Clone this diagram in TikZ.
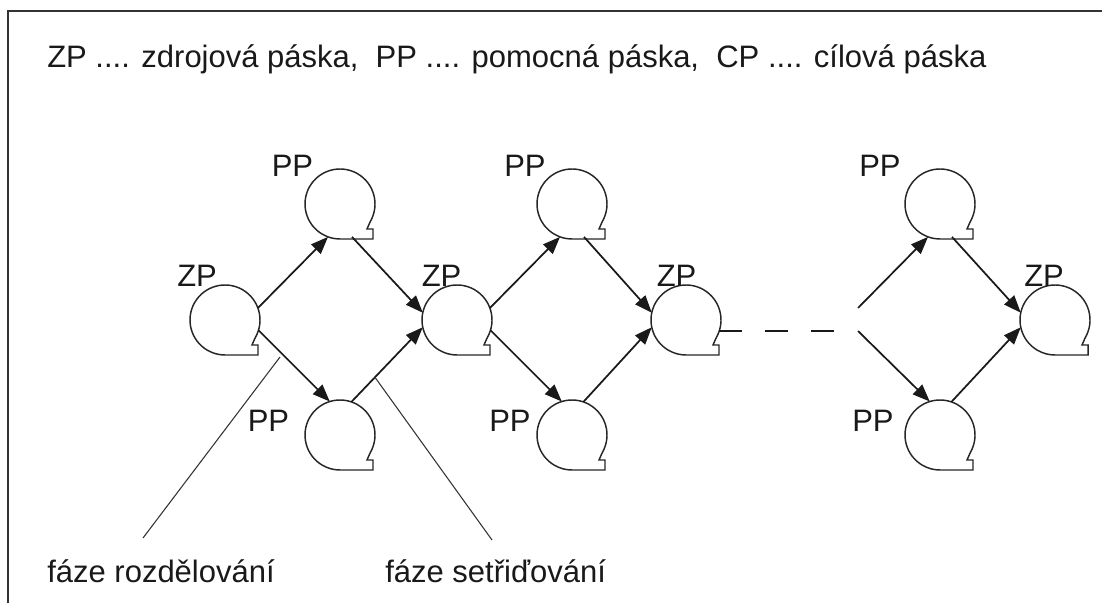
\documentclass[tikz,border=0pt]{standalone}
\usepackage{fontspec}
\setmainfont{Liberation Sans}
\usetikzlibrary{arrows.meta,calc}
\begin{document}
\begin{tikzpicture}[x=0.75pt,y=0.75pt,
  font=\fontsize{23.25}{28}\selectfont,
  tape/.style={circle,minimum size=52.5pt,inner sep=0pt,outer sep=0pt},
  outline/.style={line width=1.1pt,black!85},
  flow/.style={line width=1.3pt,black!90,-{Triangle[length=13pt,width=10pt]}},
  plain/.style={line width=1.2pt,black!90},
  pointer/.style={line width=0.8pt,black!80},
  frame/.style={line width=1.5pt,black!80},
  lbl/.style={anchor=base west,inner sep=0pt,text=black!90}]
\useasboundingbox (0,0) rectangle (1102,603);

% open frame: only the top and left edges
\draw[frame] (7.5,0) -- (7.5,591.5) -- (1102,591.5);

% legend
\node[lbl] (legend) at (47,535)
  {ZP .... zdrojová páska,\ \ PP .... pomocná páska,\ \ CP .... cílová páska};

% tape reels
\node[tape] (zp1) at (225,283) {};
\node[tape] (pa1) at (340,399) {};
\node[tape] (pb1) at (340,168) {};
\node[tape] (zp2) at (457,283) {};
\node[tape] (pa2) at (572,399) {};
\node[tape] (pb2) at (572,168) {};
\node[tape] (zp3) at (686,283) {};
\node[tape] (pa3) at (940,399) {};
\node[tape] (pb3) at (940,168) {};
\node[tape] (zp4) at (1055,283) {};

\foreach \n in {zp1,pa1,pb1,zp2,pa2,pb2,zp3,pa3,pb3,zp4}
  \draw[outline] ($(\n.center)+(-30:35)$)
     arc[start angle=-30,end angle=270,radius=35]
     -- ++(33,0) -- ++(0,10) -- ++(-6,0) -- cycle;

% reel captions
\node[lbl] (zp1l) at (177,316) {ZP};
\node[lbl] (zp2l) at (421.5,316) {ZP};
\node[lbl] (zp3l) at (656.5,316) {ZP};
\node[lbl] (zp4l) at (1024,316) {ZP};
\node[lbl] (pa1l) at (271.5,426) {PP};
\node[lbl] (pa2l) at (504,426) {PP};
\node[lbl] (pa3l) at (859,426) {PP};
\node[lbl] (pb1l) at (247.5,171) {PP};
\node[lbl] (pb2l) at (489,171) {PP};
\node[lbl] (pb3l) at (852,171) {PP};

% first pass
\draw[flow] (zp1.20) -- (pa1.-110);
\draw[flow] (pa1.-70) -- (zp2.168);
\draw[flow] (zp1.-17) -- (pb1.107);
\draw[flow] (pb1.71) -- coordinate[pos=0.33] (setr) (zp2.192);

% second pass
\draw[flow] (zp2.20) -- (pa2.-110);
\draw[flow] (pa2.-70) -- (zp3.168);
\draw[flow] (zp2.-17) -- (pb2.107);
\draw[flow] (pb2.71) -- (zp3.192);

% omitted passes
\coordinate (gapend) at (836,272);
\draw[plain,dash pattern=on 17.25pt off 17.25pt] (zp3.-18) -- (zp3.-18 -| gapend);

% last pass
\coordinate (ua) at (858,295);
\coordinate (ub) at (858,272);
\draw[flow] (ua) -- (pa3.-110);
\draw[flow] (ub) -- (pb3.107);
\draw[flow] (pa3.-70) -- (zp4.168);
\draw[flow] (pb3.71) -- (zp4.192);

% phase captions
\node[lbl] (rozdl) at (47,21) {fáze rozdělování};
\node[lbl] (setrl) at (385,21) {fáze setřiďování};
\coordinate (rozd) at (280,246);
\coordinate (rozdend) at (143,65);
\coordinate (setrend) at (492,63);
\draw[pointer] (rozd) -- (rozdend);
\draw[pointer] (setr) -- (setrend);
\end{tikzpicture}
\end{document}
